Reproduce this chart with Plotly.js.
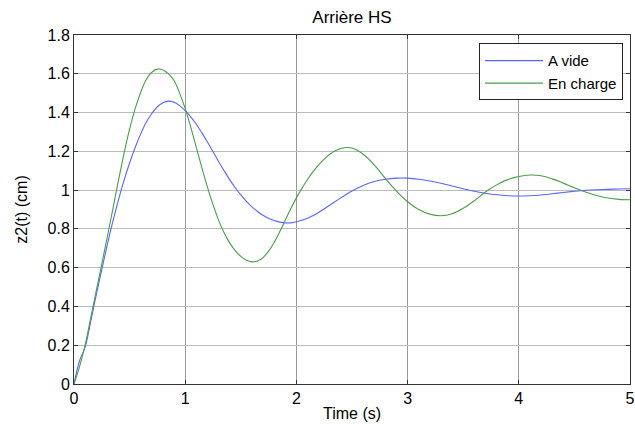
<!DOCTYPE html>
<html>
<head>
<meta charset="utf-8">
<script src="https://cdn.plot.ly/plotly-3.0.1.min.js"></script>
<style>html,body{margin:0;padding:0;background:#fff;}#chart{width:635px;height:424px;}</style>
</head>
<body>
<div id="chart"></div>
<script>
// A vide (blue)
const tVide = [0, 0.05, 0.10, 0.15, 0.20, 0.25, 0.30, 0.35, 0.40, 0.45, 0.50, 0.55, 0.60, 0.65, 0.70, 0.75, 0.80, 0.85, 0.90, 0.95, 1.00,
  1.05, 1.10, 1.15, 1.20, 1.25, 1.30, 1.35, 1.40, 1.45, 1.50, 1.55, 1.60, 1.65, 1.70, 1.75, 1.80, 1.85, 1.90, 1.95, 2.00,
  2.10, 2.20, 2.30, 2.40, 2.50, 2.60, 2.70, 2.80, 2.90, 3.00, 3.10, 3.20, 3.30, 3.40, 3.50, 3.60, 3.70, 3.80, 3.90, 4.00,
  4.10, 4.20, 4.30, 4.40, 4.50, 4.60, 4.70, 4.80, 4.90, 5.00];
const yVide = [0, 0.12, 0.19, 0.32, 0.46, 0.59, 0.72, 0.84, 0.95, 1.05, 1.14, 1.22, 1.29, 1.35, 1.395, 1.43, 1.45, 1.459, 1.453, 1.436, 1.41,
  1.378, 1.34, 1.295, 1.248, 1.198, 1.148, 1.10, 1.054, 1.012, 0.975, 0.942, 0.914, 0.89, 0.87, 0.855, 0.843, 0.835, 0.831, 0.831, 0.837,
  0.855, 0.885, 0.922, 0.96, 0.995, 1.024, 1.044, 1.056, 1.062, 1.062, 1.056, 1.047, 1.035, 1.021, 1.007, 0.994, 0.984, 0.976, 0.971, 0.97,
  0.971, 0.975, 0.981, 0.988, 0.994, 0.999, 1.002, 1.004, 1.006, 1.007];

// En charge (green)
const tCharge = [0, 0.05, 0.10, 0.15, 0.20, 0.25, 0.30, 0.35, 0.40, 0.45, 0.50, 0.55, 0.60, 0.65, 0.70, 0.75, 0.80, 0.85, 0.90, 0.95, 1.00,
  1.05, 1.10, 1.15, 1.20, 1.25, 1.30, 1.35, 1.40, 1.45, 1.50, 1.55, 1.60, 1.65, 1.70, 1.75, 1.80, 1.85, 1.90, 1.95, 2.00,
  2.05, 2.10, 2.15, 2.20, 2.25, 2.30, 2.35, 2.40, 2.45, 2.50,
  2.60, 2.70, 2.80, 2.90, 3.00, 3.10, 3.20, 3.30, 3.40, 3.50, 3.60, 3.70, 3.80, 3.90, 4.00,
  4.10, 4.20, 4.30, 4.40, 4.50, 4.60, 4.70, 4.80, 4.90, 5.00];
const yCharge = [0, 0.09, 0.20, 0.34, 0.48, 0.62, 0.76, 0.905, 1.05, 1.19, 1.315, 1.42, 1.505, 1.57, 1.608, 1.624, 1.62, 1.60, 1.565, 1.50, 1.42,
  1.325, 1.22, 1.115, 1.015, 0.925, 0.845, 0.78, 0.728, 0.688, 0.658, 0.638, 0.63, 0.634, 0.652, 0.685, 0.73, 0.785, 0.845, 0.905, 0.96,
  1.01, 1.055, 1.095, 1.13, 1.16, 1.185, 1.203, 1.215, 1.22, 1.217,
  1.185, 1.13, 1.06, 0.995, 0.94, 0.90, 0.876, 0.868, 0.878, 0.906, 0.945, 0.99, 1.027, 1.054, 1.07,
  1.078, 1.074, 1.058, 1.036, 1.012, 0.99, 0.972, 0.959, 0.952, 0.95];

const xTicks = [0, 1, 2, 3, 4, 5];
const yTicks = [0, 0.2, 0.4, 0.6, 0.8, 1, 1.2, 1.4, 1.6, 1.8];

const FONT = 'Liberation Sans, Arial, Helvetica, sans-serif';

const traces = [
  {x: tVide, y: yVide, name: 'A vide', type: 'scatter', mode: 'lines',
   line: {color: '#5a64ff', width: 1.1, shape: 'spline', smoothing: 1}},
  {x: tCharge, y: yCharge, name: 'En charge', type: 'scatter', mode: 'lines',
   line: {color: '#47a047', width: 1.1, shape: 'spline', smoothing: 1}}
];

const layout = {
  width: 635, height: 424,
  margin: {l: 74, r: 5, t: 35, b: 40},
  paper_bgcolor: '#ffffff', plot_bgcolor: '#ffffff',
  font: {family: FONT, size: 15, color: '#000'},
  title: {text: 'Arrière HS', font: {family: FONT, size: 17, color: '#000'},
          xref: 'paper', x: 0.5, xanchor: 'center', yref: 'container', y: 0.96, yanchor: 'middle'},
  showlegend: true,
  legend: {x: 0.9875, xanchor: 'right', y: 0.976, yanchor: 'top',
           bgcolor: '#ffffff', bordercolor: '#222', borderwidth: 1, itemwidth: 58,
           font: {family: FONT, size: 15, color: '#000'}, tracegroupgap: 0},
  xaxis: {range: [0, 5], tickvals: xTicks, ticktext: xTicks.map(String),
          showgrid: true, gridcolor: '#999999', gridwidth: 1, zeroline: false,
          showline: true, linecolor: '#333', linewidth: 1, mirror: 'ticks',
          ticks: 'inside', ticklen: 4, tickcolor: '#333', ticklabeloverflow: 'allow',
          tickfont: {family: FONT, size: 16, color: '#000'},
          title: {text: 'Time (s)', font: {family: FONT, size: 16, color: '#000'}, standoff: 1}},
  yaxis: {range: [0, 1.8], tickvals: yTicks, ticktext: yTicks.map(String),
          showgrid: true, gridcolor: '#bbbbbb', gridwidth: 1, zeroline: false,
          showline: true, linecolor: '#333', linewidth: 1, mirror: 'ticks',
          ticks: 'inside', ticklen: 4, tickcolor: '#333',
          tickfont: {family: FONT, size: 16, color: '#000'},
          title: {text: 'z2(t) (cm)', font: {family: FONT, size: 16, color: '#000'}, standoff: 15}}
};

Plotly.newPlot('chart', traces, layout, {staticPlot: true, displayModeBar: false});
</script>
</body>
</html>
